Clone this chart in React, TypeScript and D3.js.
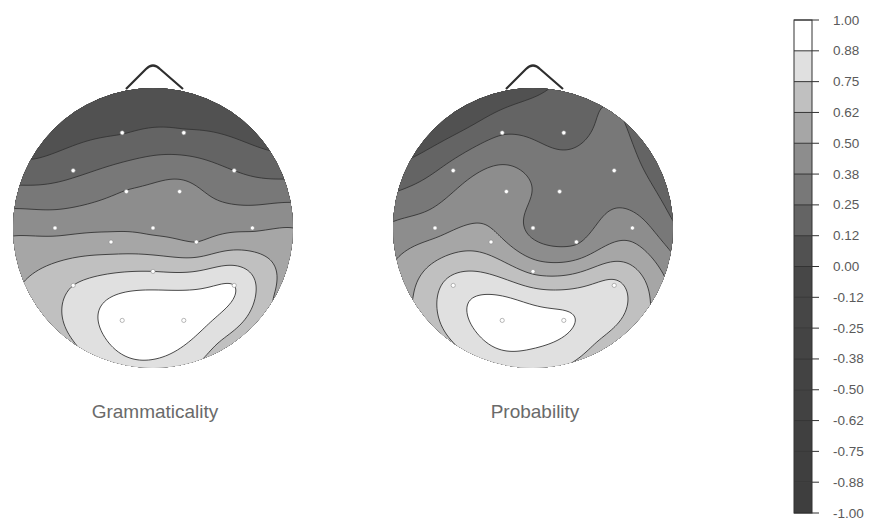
import React, { useMemo } from 'react';
import * as d3 from 'd3';

// electrode layout, head radius = 1, x to the right, y towards the back of the head
const channels = ['Fp1', 'Fp2', 'F7', 'F8', 'F3', 'F4', 'T3', 'Cz', 'T4', 'C3', 'C4', 'Pz', 'T5', 'T6', 'O1', 'O2'];
const channelX = [-0.22, 0.22, -0.57, 0.58, -0.19, 0.19, -0.7, 0, 0.71, -0.3, 0.31, 0, -0.57, 0.58, -0.22, 0.22];
const channelY = [-0.68, -0.68, -0.41, -0.41, -0.26, -0.26, 0, 0, 0, 0.1, 0.1, 0.31, 0.41, 0.41, 0.66, 0.66];

// correlation value at each electrode
const grammaticality = [0.12, 0.14, 0.22, 0.25, 0.38, 0.42, 0.46, 0.47, 0.48, 0.55, 0.5, 0.75, 0.75, 0.875, 0.96, 0.95];
const probability = [0.24, 0.2, 0.3, 0.32, 0.45, 0.33, 0.45, 0.34, 0.44, 0.55, 0.36, 0.6, 0.8, 0.78, 0.97, 0.9];

// values read along the scalp edge, clockwise from the nose
const rimAngles = [0, 30, 60, 90, 120, 150, 180, 210, 240, 270, 300, 330];
const grammaticalityRim = [0.02, 0.04, 0.15, 0.5, 0.62, 0.7, 0.84, 0.76, 0.66, 0.47, 0.12, 0.03];
const probabilityRim = [0.1, 0.25, 0.2, 0.27, 0.6, 0.7, 0.78, 0.76, 0.62, 0.4, 0.125, 0.0];

// colour scale
const levels = d3.range(-8, 9).map(k => k / 8);
const tickLabels = ['-1.00', '-0.88', '-0.75', '-0.62', '-0.50', '-0.38', '-0.25', '-0.12', '0.00',
  '0.12', '0.25', '0.38', '0.50', '0.62', '0.75', '0.88', '1.00'];
const bandColors = ['#3e3e3e', '#3f3f3f', '#404040', '#424242', '#434343', '#444444', '#464646', '#474747',
  '#515151', '#646464', '#787878', '#8d8d8d', '#a6a6a6', '#c0c0c0', '#e0e0e0', '#ffffff'];

const R = 140;

// thin plate spline through the electrode + rim values
function thinPlate(px: number[], py: number[], v: number[]) {
  const n = px.length;
  const m = n + 3;
  const U = (r: number) => (r > 1e-9 ? r * r * Math.log(r) : 0);
  const A: number[][] = Array.from({ length: m }, () => new Array(m + 1).fill(0));
  for (let i = 0; i < n; i++) {
    for (let j = 0; j < n; j++) A[i][j] = U(Math.hypot(px[i] - px[j], py[i] - py[j]));
    A[i][n] = 1; A[i][n + 1] = px[i]; A[i][n + 2] = py[i];
    A[n][i] = 1; A[n + 1][i] = px[i]; A[n + 2][i] = py[i];
    A[i][m] = v[i];
  }
  for (let c = 0; c < m; c++) {
    let p = c;
    for (let r = c + 1; r < m; r++) if (Math.abs(A[r][c]) > Math.abs(A[p][c])) p = r;
    [A[c], A[p]] = [A[p], A[c]];
    for (let r = 0; r < m; r++) {
      if (r === c) continue;
      const f = A[r][c] / A[c][c];
      if (f === 0) continue;
      for (let k = c; k <= m; k++) A[r][k] -= f * A[c][k];
    }
  }
  const w = A.map((row, i) => row[m] / row[i]);
  return (x: number, y: number) => {
    let s = w[n] + w[n + 1] * x + w[n + 2] * y;
    for (let i = 0; i < n; i++) s += w[i] * U(Math.hypot(x - px[i], y - py[i]));
    return s;
  };
}

const color = d3.scaleThreshold<number, string>().domain(levels.slice(1, -1)).range(bandColors);

const Head: React.FC<{ cx: number; cy: number; values: number[]; rim: number[]; label: string; id: string }> =
  ({ cx, cy, values, rim, label, id }) => {
    const { fills } = useMemo(() => {
      const px = channelX.concat(rimAngles.map(a => Math.sin((a * Math.PI) / 180)));
      const py = channelY.concat(rimAngles.map(a => -Math.cos((a * Math.PI) / 180)));
      const f = thinPlate(px, py, values.concat(rim));
      const step = 2;
      const half = 146;
      const nx = Math.round((2 * half) / step) + 1;
      const grid = new Array(nx * nx);
      for (let j = 0; j < nx; j++) {
        for (let i = 0; i < nx; i++) {
          grid[j * nx + i] = f((-half + i * step) / R, (-half + j * step) / R);
        }
      }
      const contours = d3.contours().size([nx, nx]).thresholds(levels.slice(1, -1))(grid);
      const proj = d3.geoIdentity().scale(step).translate([cx - half - 0.5 * step, cy - half - 0.5 * step]);
      const path = d3.geoPath(proj as any);
      return { fills: contours.map(c => ({ d: path(c as any) || '', v: c.value })) };
    }, [cx, cy, values, rim]);

    return (
      <g>
        <clipPath id={id}>
          <circle cx={cx} cy={cy} r={R} />
        </clipPath>
        <path
          d={`M${cx - 27},${cy - 139} L${cx - 7},${cy - 159} Q${cx},${cy - 166} ${cx + 7},${cy - 159} L${cx + 30},${cy - 139}`}
          fill="none" stroke="#2e2e2e" strokeWidth={2.2} strokeLinejoin="round" />
        <g clipPath={`url(#${id})`}>
          <circle cx={cx} cy={cy} r={R} fill={bandColors[0]} />
          {fills.map((c, i) => (
            <path key={'f' + i} d={c.d} fill={color(c.v + 0.06)} stroke="none" />
          ))}
          {fills.map((c, i) => (
            <path key={'l' + i} d={c.d} fill="none" stroke="#363636" strokeWidth={0.9} />
          ))}
        </g>
        {channels.map((ch, i) => (
          <circle key={ch} cx={cx + channelX[i] * R} cy={cy + channelY[i] * R} r={2.1}
            fill="#ffffff" stroke="#8a8a8a" strokeWidth={0.6} />
        ))}
        <text x={cx + 2} y={418} textAnchor="middle" fontFamily="'Liberation Sans', Arial, sans-serif"
          fontSize={19} fill="#6a6a6a">{label}</text>
      </g>
    );
  };

const ColorBar: React.FC = () => {
  const y = d3.scaleLinear().domain([-1, 1]).range([513, 20]);
  const x0 = 794;
  const w = 18;
  return (
    <g>
      {bandColors.map((c, i) => (
        <rect key={i} x={x0} y={y(levels[i + 1])} width={w} height={y(levels[i]) - y(levels[i + 1])} fill={c} />
      ))}
      {levels.map(l => (
        <line key={'d' + l} x1={x0} x2={x0 + w + 7} y1={y(l)} y2={y(l)} stroke="#333" strokeWidth={1} />
      ))}
      <rect x={x0} y={y(1)} width={w} height={y(-1) - y(1)} fill="none" stroke="#333" strokeWidth={1} />
      {levels.map((l, i) => (
        <text key={'t' + l} x={833} y={y(l) + 4.5} fontFamily="'Liberation Sans', Arial, sans-serif"
          fontSize={13.5} fill="#5a5a5a">{tickLabels[i]}</text>
      ))}
    </g>
  );
};

export default function App() {
  return (
    <svg width={873} height={521} style={{ position: 'absolute', left: 0, top: 0, background: '#fff' }}>
      <rect width={873} height={521} fill="#fff" />
      <Head id="clip-g" cx={153} cy={228} values={grammaticality} rim={grammaticalityRim} label="Grammaticality" />
      <Head id="clip-p" cx={533} cy={228} values={probability} rim={probabilityRim} label="Probability" />
      <ColorBar />
    </svg>
  );
}
